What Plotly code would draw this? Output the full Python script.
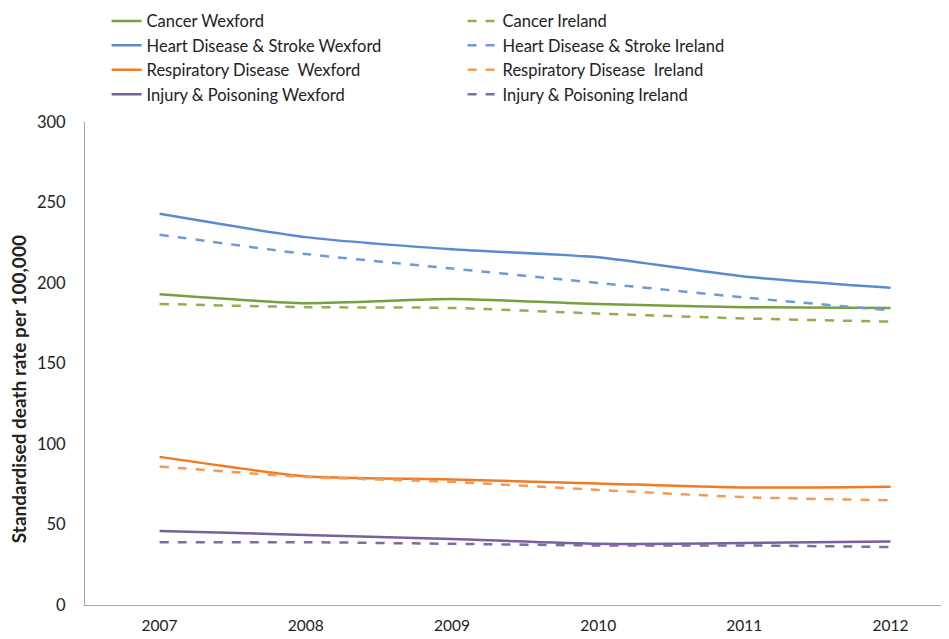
import plotly.graph_objects as go

years = [2007, 2008, 2009, 2010, 2011, 2012]

cancer_wexford = [193, 187.5, 190, 187, 185, 184.5]
cancer_ireland = [187, 185, 184.5, 181, 178, 176]
heart_wexford = [243, 228.5, 221, 216, 204, 197]
heart_ireland = [230, 218, 209, 200, 191, 183]
resp_wexford = [92, 80, 78, 75.5, 73, 73.5]
resp_ireland = [86, 79.5, 76.5, 71.5, 67, 65]
injury_wexford = [46, 43.5, 41, 38, 38.5, 39.5]
injury_ireland = [39, 39, 38, 37, 37, 36]

names = [
    "Cancer Wexford", "Cancer Ireland",
    "Heart Disease & Stroke Wexford", "Heart Disease & Stroke Ireland",
    "Respiratory Disease  Wexford", "Respiratory Disease  Ireland",
    "Injury & Poisoning Wexford", "Injury & Poisoning Ireland",
]
series = [cancer_wexford, cancer_ireland, heart_wexford, heart_ireland,
          resp_wexford, resp_ireland, injury_wexford, injury_ireland]
colors = ["#77A03E", "#8DB152", "#5A8AD4", "#6E9AD9",
          "#F07B22", "#F29A58", "#7A5F9D", "#836AA5"]
dashes = ["solid", "dash"] * 4

fig = go.Figure()
for n, s, c, d in zip(names, series, colors, dashes):
    fig.add_trace(go.Scatter(
        x=years, y=s, name=n, mode="lines",
        line=dict(color=c, width=2.5, dash=d, shape="spline", smoothing=0.6),
    ))

fig.update_layout(
    width=949, height=639,
    margin=dict(l=77, r=8, t=114, b=42, autoexpand=False),
    plot_bgcolor="white", paper_bgcolor="white",
    font=dict(family="Lato, 'Open Sans', sans-serif", size=14, color="#222"),
    showlegend=True,
    legend=dict(
        orientation="h", x=0.025, xanchor="left", y=1.245, yanchor="top",
        yref="paper", entrywidth=311, entrywidthmode="pixels",
        font=dict(size=16.5, color="#222"), tracegroupgap=0,
        itemwidth=30,
    ),
    xaxis=dict(
        range=[2006.49, 2012.4], tickmode="array", tickvals=years,
        ticktext=[str(y) for y in years],
        showgrid=False, zeroline=False, showline=True, linecolor="#A6A6A6",
        linewidth=1, ticks="", tickfont=dict(size=15.5), ticklabelstandoff=6,
    ),
    yaxis=dict(
        range=[0, 300], tickvals=[0, 50, 100, 150, 200, 250, 300],
        showgrid=False, zeroline=False, showline=True, linecolor="#A6A6A6",
        linewidth=1, ticks="", tickfont=dict(size=16.5), ticklabelstandoff=15,
    ),
    annotations=[dict(
        text="<b>Standardised death rate per 100,000</b>",
        xref="paper", yref="paper", x=-0.0775, y=0.447,
        xanchor="center", yanchor="middle", textangle=-90,
        showarrow=False, font=dict(size=19, color="#222"),
    )],
)

fig.write_html("out.html")
